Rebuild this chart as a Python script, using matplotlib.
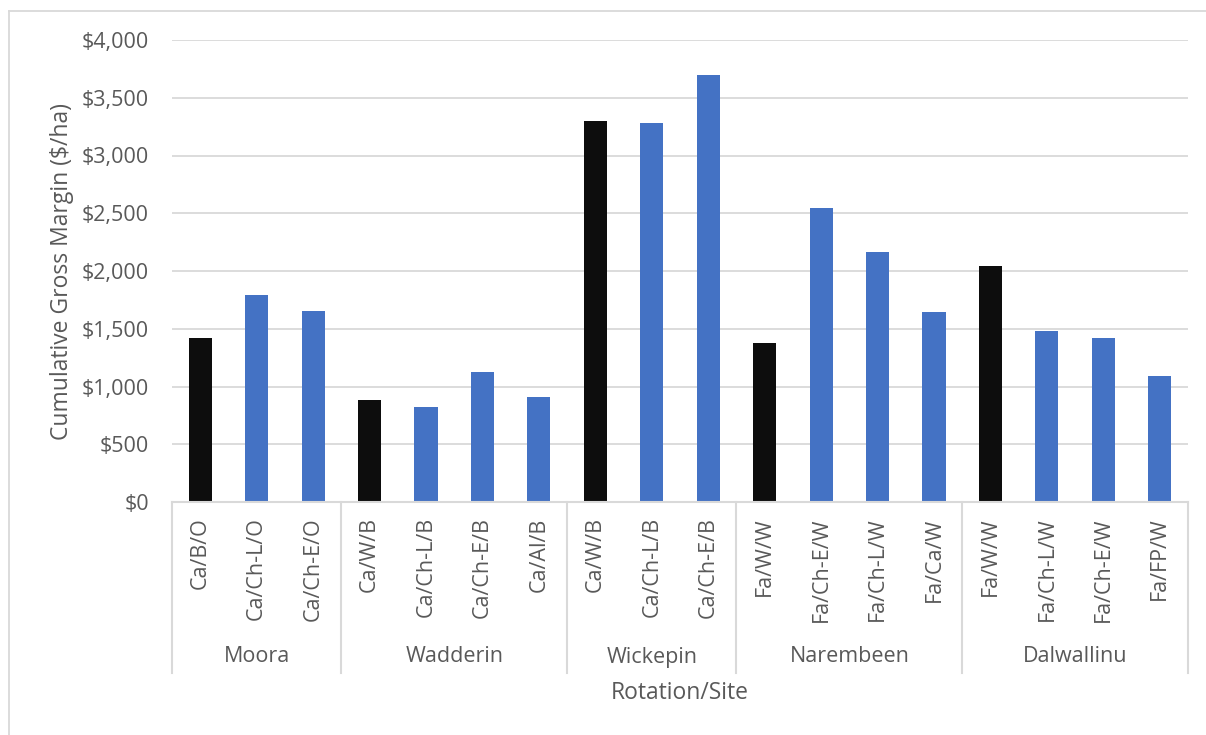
import matplotlib
matplotlib.use('Agg')
import matplotlib.pyplot as plt
import matplotlib.transforms as mtransforms
from matplotlib.lines import Line2D
from matplotlib.ticker import FuncFormatter
import numpy as np

# data
sites = ['Moora', 'Wadderin', 'Wickepin', 'Narembeen', 'Dalwallinu']
rotations = [
    ['Ca/B/O', 'Ca/Ch-L/O', 'Ca/Ch-E/O'],
    ['Ca/W/B', 'Ca/Ch-L/B', 'Ca/Ch-E/B', 'Ca/Al/B'],
    ['Ca/W/B', 'Ca/Ch-L/B', 'Ca/Ch-E/B'],
    ['Fa/W/W', 'Fa/Ch-E/W', 'Fa/Ch-L/W', 'Fa/Ca/W'],
    ['Fa/W/W', 'Fa/Ch-L/W', 'Fa/Ch-E/W', 'Fa/FP/W'],
]
margins = [
    [1420, 1795, 1655],
    [880, 826, 1125, 910],
    [3302, 3283, 3696],
    [1376, 2548, 2165, 1642],
    [2041, 1480, 1422, 1087],
]
# first rotation of each site is the baseline (black)

plt.rcParams['font.family'] = ['Open Sans', 'DejaVu Sans']
TXT = '#595959'
GRID = '#d9d9d9'
FS = 15.5      # tick labels
FS_T = 16.5    # axis titles

W, H = 1206, 735
fig = plt.figure(figsize=(W / 100, H / 100), dpi=100)

# plot area in pixels
left, right, top, bottom = 172, 1188, 40, 502
ax = fig.add_axes([left / W, 1 - bottom / H, (right - left) / W, (bottom - top) / H])

labels = [r for grp in rotations for r in grp]
values = [v for grp in margins for v in grp]
colors = []
for grp in rotations:
    colors += ['#0d0d0d'] + ['#4472c4'] * (len(grp) - 1)
x = np.arange(len(labels))

ax.bar(x, values, width=0.41, color=colors, zorder=3)

ax.set_xlim(-0.5, len(labels) - 0.5)
ax.set_ylim(0, 4000)
ax.set_yticks(np.arange(0, 4001, 500))
ax.yaxis.set_major_formatter(FuncFormatter(lambda v, p: '${:,.0f}'.format(v)))
ax.grid(axis='y', color=GRID, linewidth=1.3, zorder=0)
ax.tick_params(axis='y', length=0, pad=16.5, labelsize=FS, labelcolor=TXT)

ax.set_xticks(x)
ax.set_xticklabels(labels, rotation=90, va='top', ha='center')
ax.tick_params(axis='x', length=0, pad=11, labelsize=FS, labelcolor=TXT)

for s in ['top', 'right', 'left']:
    ax.spines[s].set_visible(False)
ax.spines['bottom'].set_color(GRID)
ax.spines['bottom'].set_linewidth(1.5)
ax.spines['bottom'].set_zorder(4)

# multi-level category axis: separators and site names
ph = bottom - top
sep_low = -(673 - bottom) / ph
trans = mtransforms.blended_transform_factory(ax.transData, ax.transAxes)
pos = -0.5
bounds = [pos]
for grp in rotations:
    pos += len(grp)
    bounds.append(pos)
for b in bounds:
    ax.add_line(Line2D([b, b], [0, sep_low], transform=trans, color=GRID,
                       linewidth=1.5, clip_on=False))
for i, site in enumerate(sites):
    cx = (bounds[i] + bounds[i + 1]) / 2
    ax.text(cx, -(657 - bottom) / ph, site, transform=trans, ha='center',
            va='center', fontsize=FS, color=TXT)

fig.text(680 / W, 1 - 693 / H, 'Rotation/Site', ha='center', va='center',
         fontsize=FS_T, color=TXT)
fig.text(62 / W, 1 - 272 / H, 'Cumulative Gross Margin ($/ha)', rotation=90,
         ha='center', va='center', fontsize=FS_T, color=TXT)

# chart area border (left and top edges visible)
fig.add_artist(Line2D([9 / W, 9 / W], [0, 1 - 11 / H], color=GRID, linewidth=1.3))
fig.add_artist(Line2D([9 / W, 1], [1 - 11 / H, 1 - 11 / H], color=GRID, linewidth=1.3))

fig.savefig('out.png', dpi=100, facecolor='white')
